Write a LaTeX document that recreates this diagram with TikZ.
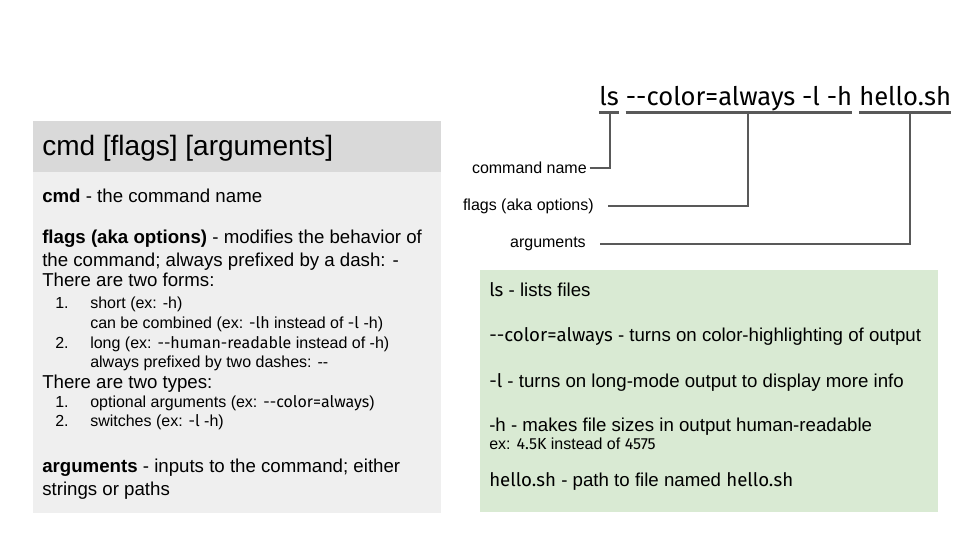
\documentclass[tikz,border=0pt]{standalone}
\usepackage{fontspec}
\setmainfont{Liberation Sans}[Ligatures=TeXOff]
\newfontfamily\codefont{Fira Sans}[Ligatures=TeXOff]
\newcommand{\code}[1]{{\codefont #1}}
\usetikzlibrary{positioning}
\definecolor{hdrgray}{HTML}{D9D9D9}
\definecolor{boxgray}{HTML}{EFEFEF}
\definecolor{boxgreen}{HTML}{D9EAD3}
\definecolor{barcol}{HTML}{595959}

\begin{document}
\begin{tikzpicture}[x=0.75pt,y=-0.75pt,
    txt/.style={anchor=base west,inner sep=0pt,font=\fontsize{14}{16}\selectfont},
    itm/.style={anchor=base west,inner sep=0pt,font=\fontsize{12}{14}\selectfont},
    lbl/.style={anchor=east,inner sep=0pt,font=\fontsize{12}{14}\selectfont},
    cmdw/.style={anchor=base west,inner sep=0pt,font=\codefont\fontsize{19.2}{24}\selectfont},
    bar/.style={barcol,line width=2.4pt},
    conn/.style={barcol,line width=0.8pt}]
  \useasboundingbox (0,0) rectangle (960,540);
  \fill[white] (0,0) rectangle (960,540);
  % panels
  \fill[hdrgray] (33,121) rectangle (441,172);
  \fill[boxgray] (33,172) rectangle (441,513);
  \fill[boxgreen] (480,270) rectangle (938,512);

  % syntax panel
  \node[txt,font=\fontsize{21}{24}\selectfont] (hdr) at (42,155) {cmd [flags] [arguments]};
  \node[txt] (cmd) at (42,202) {\textbf{cmd} - the command name};
  \node[txt] (flg) at (42,243) {\textbf{flags (aka options)} - modifies the behavior of};
  \node[txt] (flgb) at (42,266) {the command; always prefixed by a dash: -};
  \node[txt] (forms) at (42,286) {There are two forms:};
  \node[itm] (fnum1) at (55,308) {1.};
  \node[itm] (form1) at (90,308) {short (ex: -h)};
  \node[itm] (form1b) at (90,328) {can be combined (ex: \code{-lh} instead of \code{-l} -h)};
  \node[itm] (fnum2) at (55,348) {2.};
  \node[itm] (form2) at (90,348) {long (ex: \code{--human-readable} instead of -h)};
  \node[itm] (form2b) at (90,367) {always prefixed by two dashes: --};
  \node[txt] (types) at (42,388) {There are two types:};
  \node[itm] (tnum1) at (55,407) {1.};
  \node[itm] (type1) at (90,407) {optional arguments (ex: \code{--color=always})};
  \node[itm] (tnum2) at (55,426) {2.};
  \node[itm] (type2) at (90,426) {switches (ex: \code{-l} -h)};
  \node[txt] (args) at (42,472) {\textbf{arguments} - inputs to the command; either};
  \node[txt] (argsb) at (42,495) {strings or paths};

  % example command
  \node[cmdw] (lsw) at (599,105) {ls};
  \node[cmdw,base right=5pt of lsw] (flagw) {--color=always -l -h};
  \node[cmdw,base right=5pt of flagw] (argw) {hello.sh};
  \draw[bar] ([yshift=-5.5pt]lsw.base west) -- ([yshift=-5.5pt]lsw.base east);
  \draw[bar] ([yshift=-5.5pt]flagw.base west) -- ([yshift=-5.5pt]flagw.base east);
  \draw[bar] ([yshift=-5.5pt]argw.base west) -- ([yshift=-5.5pt]argw.base east);
  \coordinate (lstip) at (610,112);
  \coordinate (flagtip) at (748,112);
  \coordinate (argtip) at (910,112);
  \node[lbl] (cmdlbl) at (587,168) {command name};
  \node[lbl] (flaglbl) at (594,206) {flags (aka options)};
  \node[lbl] (arglbl) at (586,244) {arguments};
  \draw[conn] ([xshift=2pt]cmdlbl.east) -| (lstip);
  \draw[conn] ([xshift=10.5pt]flaglbl.east) -| (flagtip);
  \draw[conn] ([xshift=10.5pt]arglbl.east) -| (argtip);

  % explanation panel
  \node[txt] (lsdesc) at (489,296) {\code{ls} - lists files};
  \node[txt] (colordesc) at (489,341) {\code{--color=always} - turns on color-highlighting of output};
  \node[txt] (ldesc) at (489,387) {\code{-l} - turns on long-mode output to display more info};
  \node[txt] (hdesc) at (489,431) {-h - makes file sizes in output human-readable};
  \node[txt,font=\fontsize{12}{14}\selectfont] (hex) at (489,449) {ex: \code{4.5K} instead of \code{4575}};
  \node[txt] (hellodesc) at (489,486) {\code{hello.sh} - path to file named \code{hello.sh}};
\end{tikzpicture}
\end{document}
